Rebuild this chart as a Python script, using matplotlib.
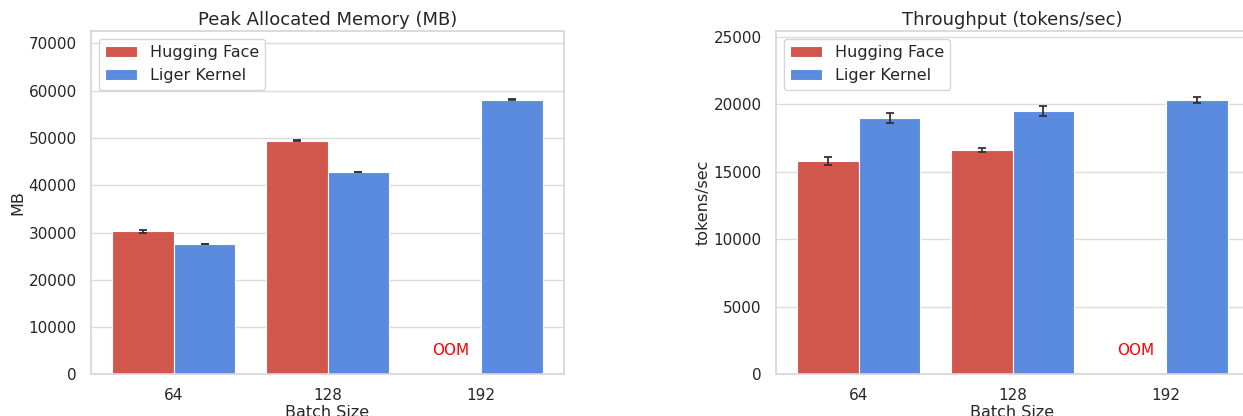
import matplotlib
matplotlib.use("Agg")
import matplotlib.pyplot as plt
import seaborn as sns
import numpy as np

batch_sizes = ["64", "128", "192"]
frameworks = ["Hugging Face", "Liger Kernel"]

mem_hf = [30250, 49390, np.nan]
mem_hf_err = [300, 80, 0]
mem_lk = [27580, 42780, 58110]
mem_lk_err = [80, 80, 100]

tp_hf = [15790, 16600, np.nan]
tp_hf_err = [280, 160, 0]
tp_lk = [19020, 19540, 20350]
tp_lk_err = [370, 370, 220]

colors = ["#d1564b", "#5a8bdf"]

sns.set_theme(style="whitegrid")
plt.rcParams["font.family"] = ["DejaVu Sans"]
plt.rcParams["axes.edgecolor"] = "#d6d6d6"
plt.rcParams["grid.color"] = "#dcdcdc"

fig = plt.figure(figsize=(12.43, 4.16), dpi=100)
ax1 = fig.add_axes([0.0730, 0.1002, 0.3810, 0.8253])
ax2 = fig.add_axes([0.6241, 0.1002, 0.3810, 0.8253])


def draw(ax, hf, hf_err, lk, lk_err, title, ylabel):
    x = np.arange(len(batch_sizes))
    w = 0.4
    for i, (vals, errs) in enumerate([(hf, hf_err), (lk, lk_err)]):
        pos = x + (i - 0.5) * w
        vals = np.array(vals, dtype=float)
        ok = ~np.isnan(vals)
        ax.bar(pos[ok], vals[ok], width=w, color=colors[i], edgecolor="white",
               linewidth=0.8, label=frameworks[i], zorder=2)
        ax.errorbar(pos[ok], vals[ok], yerr=np.array(errs)[ok], fmt="none",
                    ecolor="#333333", elinewidth=1.3, capsize=3.2, capthick=1.3, zorder=3)
    top = np.nanmax(np.concatenate([np.array(hf, float), np.array(lk, float)])) * 1.25
    ax.set_ylim(0, top)
    ax.set_xlim(-0.54, 2.54)
    ax.set_xticks(x)
    ax.set_xticklabels(batch_sizes)
    ax.set_title(title, fontsize=13, pad=4)
    ax.set_ylabel(ylabel, fontsize=11.5, labelpad=2)
    ax.set_xlabel("Batch Size", fontsize=11.5, labelpad=1)
    ax.tick_params(labelsize=11, pad=4)
    ax.grid(axis="x", visible=False)
    ax.legend(loc="upper left", fontsize=11.5, frameon=True, handlelength=2.0,
              borderaxespad=0.5)
    for i, v in enumerate(hf):
        if np.isnan(v):
            ax.text(i - 0.2, top * 0.068, "OOM", color="red", ha="center",
                    va="center", fontsize=11)


draw(ax1, mem_hf, mem_hf_err, mem_lk, mem_lk_err, "Peak Allocated Memory (MB)", "MB")
draw(ax2, tp_hf, tp_hf_err, tp_lk, tp_lk_err, "Throughput (tokens/sec)", "tokens/sec")

fig.savefig("out.png", dpi=100)
